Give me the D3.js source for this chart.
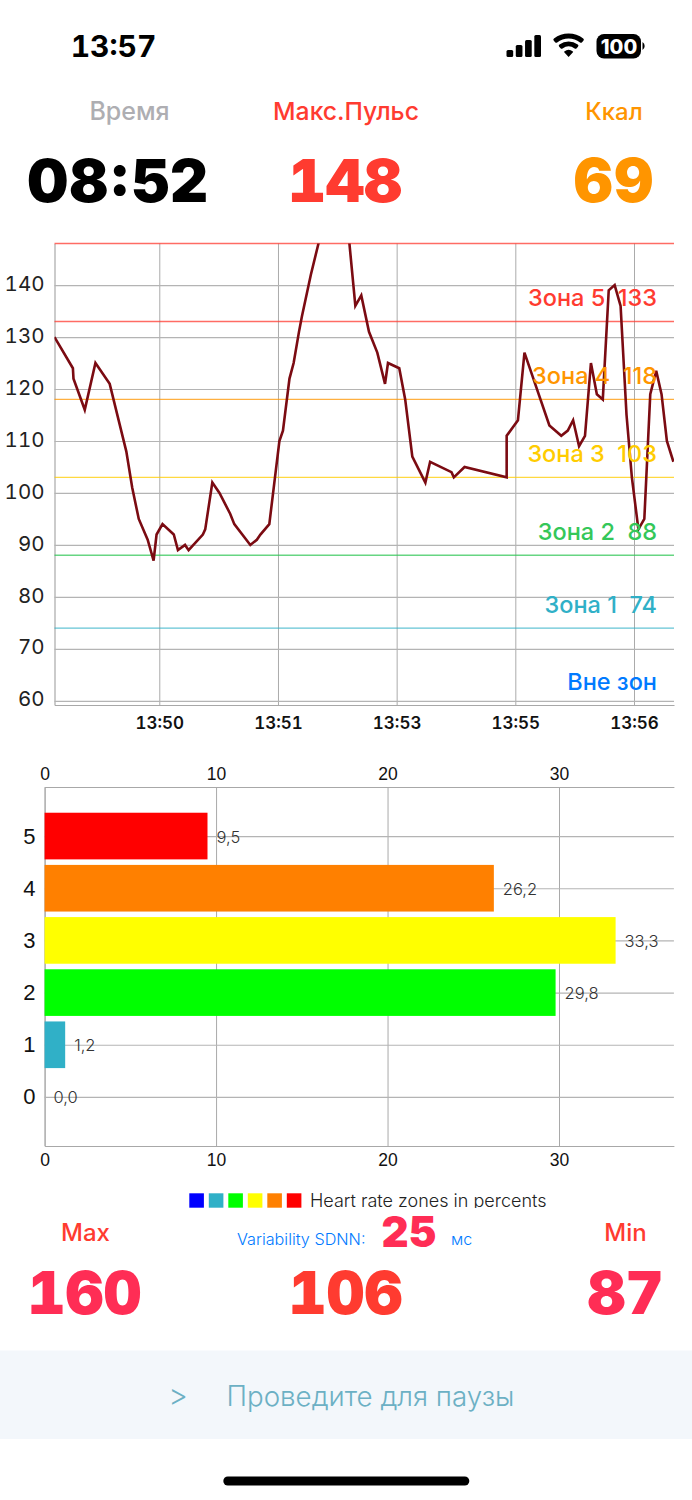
<!DOCTYPE html>
<html lang="ru">
<head>
<meta charset="UTF-8">
<title>Пульс</title>
<script src="https://cdnjs.cloudflare.com/ajax/libs/d3/7.8.5/d3.min.js"></script>
<style>
    html,body{margin:0;padding:0;background:#fff;}
    svg{display:block;}
    .tab,.tab text{font-variant-numeric:tabular-nums;}
</style>
</head>
<body>
<script>
// heart rate line, x is the sample number on the chart axis
var samplePos=[0,3.1,3.2,5.1,6.9,9.3,12.1,13.1,14.2,15.7,16.7,17.2,18.2,20.1,20.8,22,22.6,25,25.4,26.6,27.8,29.6,30.3,33,34.1,34.7,36.2,37.9,38.5,39.6,40.3,41.2,41.7,43.2,44.7,47.3,48.7,50.7,51.7,53,54.4,55.7,56.2,58.1,59.1,60.3,62.5,63.3,66.9,67.3,69.1,76.2,76.2,78.1,79.2,83.4,85.4,86.5,87.4,88.4,89.4,90.4,91.4,92.4,93.4,94.4,95.4,96.4,97.3,98.4,99.4,100.4,101.4,102.3,103.2,104.3];
var pulse=[130,124,122,116,125,121,108,101,95,91,87,92,94,92,89,90,89,92,93,102,100,96,94,90,91,92,94,110,112,122,125,131,134,142,149,160,160,136,138,131,127,121,125,124,118,107,102,106,104,103,105,103,111,114,127,113,111,112,114,109,111,125,119,118,139,140,136,115,103,93,95,119,123.5,119,110,106];

var timeTicks=[17.66,37.66,57.66,77.66,97.66];
var timeLabels=["13:50","13:51","13:53","13:55","13:56"];
var pulseTicks=[60,70,80,90,100,110,120,130,140];

var zoneValues=[148,133,118,103,88,74];
var zoneLineColors=["#ff3b30","#ff3b30","#ff9500","#ffcc00","#34c759","#30b0c7"];
var zoneNames=["Зона 5  133","Зона 4  118","Зона 3  103","Зона 2  88","Зона 1  74","Вне зон"];
var zoneNameColors=["#ff3b30","#ff9500","#ffcc00","#34c759","#30b0c7","#007aff"];
var zoneNameY=[306,384,462,540,613,690];

// zones in percents
var zoneIds=[5,4,3,2,1,0];
var zonePercents=[9.5,26.2,33.3,29.8,1.2,0];
var zoneLabels=["9,5","26,2","33,3","29,8","1,2","0,0"];
var barColors=["#ff0000","#ff8000","#ffff00","#00ff00","#30b0c7","#0000ff"];
var percentTicks=[0,10,20,30];
var legendColors=["#0000ff","#30b0c7","#00ff00","#ffff00","#ff8000","#ff0000"];

var signalBars=[7,12,17,22];

var width=692,height=1500;
var uiFont="Inter, 'Noto Sans', sans-serif";
var plainFont="'Liberation Sans', Arial, sans-serif";

var svg=d3.select("body").append("svg").attr("width",width).attr("height",height);

function label(x,y,str,size,weight,color,anchor,family){
    return svg.append("text")
        .attr("x",x).attr("y",y)
        .attr("font-size",size)
        .attr("font-weight",weight)
        .attr("font-family",family||uiFont)
        .attr("fill",color)
        .attr("text-anchor",anchor||"middle")
        .text(str);
}

// ---------- status bar ----------
label(113.5,57,"13:57",30,700,"#000").attr("class","tab");
var sigX=d3.scaleBand().domain(d3.range(4)).range([506.5,541]).paddingInner(0.28);
svg.selectAll(".sig").data(signalBars).enter().append("rect")
    .attr("x",function(d,i){return sigX(i);})
    .attr("y",function(d){return 57-d;})
    .attr("width",sigX.bandwidth())
    .attr("height",function(d){return d;})
    .attr("rx",1.5)
    .attr("fill","#000");
[[0,7],[10.5,15.5],[18.5,23.5]].forEach(function(r){
    svg.append("path")
        .attr("transform","translate(568.6,57)")
        .attr("d",d3.arc().innerRadius(r[0]).outerRadius(r[1]).startAngle(-0.74).endAngle(0.74).cornerRadius(r[0]?1.5:0.5)())
        .attr("fill","#000");
});
svg.append("rect").attr("x",596.5).attr("y",34).attr("width",44.5).attr("height",24.5).attr("rx",7.5).attr("fill","#000");
svg.append("path").attr("d","M642.5 42 a4 4.5 0 0 1 0 8 z").attr("fill","#000");
label(619,53.5,"100",20,800,"#fff");

// ---------- header numbers ----------
label(129.5,120,"Время",25,500,"#aeaeb2");
label(346,120,"Макс.Пульс",24.7,500,"#ff3b30");
label(614,120,"Ккал",24,500,"#ff9500");
label(117.5,202,"08:52",59,900,"#000");
label(345,202,"148",59,900,"#ff3b30").attr("class","tab");
label(613.5,202,"69",60,900,"#ff9500");

// ---------- pulse chart ----------
var x=d3.scaleLinear().domain([0,104.4]).range([54.5,674]);
var y=d3.scaleLinear().domain([59.2,148]).range([705,243.5]);

var xAxis=d3.axisBottom(x).tickValues(timeTicks).tickFormat(function(d,i){return timeLabels[i];}).tickSize(-(705-243.5)).tickSizeOuter(0).tickPadding(10);
var yAxis=d3.axisLeft(y).tickValues(pulseTicks).tickSize(-(674-54.5)).tickSizeOuter(0).tickPadding(10);

var gx=svg.append("g").attr("class","tab").attr("transform","translate(0,705)").call(xAxis);
var gy=svg.append("g").attr("class","tab").attr("transform","translate(54.5,0)").call(yAxis);
gx.select(".domain").attr("stroke","#a8a8a8").attr("stroke-width",1.2);
gy.select(".domain").attr("stroke","#a8a8a8").attr("stroke-width",1.2);
gx.selectAll("line").attr("stroke","#ababab").attr("stroke-width",1);
gy.selectAll("line").attr("stroke","#b4b4b4").attr("stroke-width",1.2);
gx.selectAll("text").attr("font-size",17).attr("font-weight",600).attr("font-family",uiFont).attr("fill","#111").attr("dy","0.85em");
gy.selectAll("text").attr("font-size",20.5).attr("font-weight",400).attr("font-family",uiFont).attr("fill","#222").attr("dy","0.25em");

svg.selectAll(".zone").data(zoneValues).enter().append("line")
    .attr("x1",x.range()[0]).attr("x2",x.range()[1])
    .attr("y1",function(d){return y(d);}).attr("y2",function(d){return y(d);})
    .attr("stroke",function(d,i){return zoneLineColors[i];})
    .attr("stroke-opacity",0.75)
    .attr("stroke-width",1.4);

svg.append("clipPath").attr("id","plot").append("rect")
    .attr("x",54.5).attr("y",243.5).attr("width",674-54.5).attr("height",705-243.5);

var line=d3.line()
    .x(function(d,i){return x(samplePos[i]);})
    .y(function(d){return y(d);});

svg.append("path").datum(pulse)
    .attr("d",line)
    .attr("clip-path","url(#plot)")
    .attr("fill","none")
    .attr("stroke","#7b0b12")
    .attr("stroke-width",2.6)
    .attr("stroke-linejoin","miter");

zoneNames.forEach(function(n,i){
    label(657,zoneNameY[i],n,23.5,500,zoneNameColors[i],"end").attr("xml:space","preserve");
});

// ---------- zones bar chart ----------
var px=d3.scaleLinear().domain([0,36.7]).range([44.6,673.9]);
var py=d3.scaleLinear().domain([-0.94,5.94]).range([1146,787]);
var barH=py(0)-py(0.894);

var pxBottom=d3.axisBottom(px).tickValues(percentTicks).tickSize(-(1146-787)).tickSizeOuter(0).tickPadding(8);
var pxTop=d3.axisTop(px).tickValues(percentTicks).tickSize(0).tickPadding(7);
var pyLeft=d3.axisLeft(py).tickValues(zoneIds).tickFormat(d3.format("d")).tickSize(-(673.9-44.6)).tickSizeOuter(0).tickPadding(9);

var gb=svg.append("g").attr("transform","translate(0,1146)").call(pxBottom);
var gt=svg.append("g").attr("transform","translate(0,787)").call(pxTop);
var gl=svg.append("g").attr("transform","translate(44.6,0)").call(pyLeft);
[gb,gt,gl].forEach(function(g){
    g.select(".domain").attr("stroke","#a8a8a8").attr("stroke-width",1);
    g.selectAll("line").attr("stroke","#a9a9a9").attr("stroke-width",1);
    g.selectAll("text").attr("font-size",17.5).attr("font-family",plainFont).attr("fill","#111");
});
gl.selectAll("line").attr("stroke","#b4b4b4").attr("stroke-width",1.2);
gl.selectAll("text").attr("font-size",22);

svg.selectAll(".bar").data(zonePercents).enter().append("rect")
    .attr("x",px(0))
    .attr("y",function(d,i){return py(zoneIds[i])-barH/2;})
    .attr("width",function(d){return px(d)-px(0);})
    .attr("height",barH)
    .attr("fill",function(d,i){return barColors[i];});

svg.selectAll(".val").data(zonePercents).enter().append("text")
    .attr("x",function(d){return px(d)+9;})
    .attr("y",function(d,i){return py(zoneIds[i])+6.5;})
    .attr("font-size",16.5)
    .attr("font-weight",300)
    .attr("font-family",uiFont)
    .attr("fill","#333")
    .text(function(d,i){return zoneLabels[i];});

// legend, the text is cut off at the bottom like in the app
var legendX=d3.scaleBand().domain(d3.range(6)).range([189.3,306.3]);
svg.selectAll(".leg").data(legendColors).enter().append("rect")
    .attr("x",function(d,i){return legendX(i);})
    .attr("y",1193.3)
    .attr("width",14.6)
    .attr("height",14.4)
    .attr("fill",function(d){return d;});
svg.append("clipPath").attr("id","legclip").append("rect")
    .attr("x",300).attr("y",1185).attr("width",260).attr("height",23);
label(310,1207,"Heart rate zones in percents",18,300,"#222","start").attr("clip-path","url(#legclip)");

// ---------- bottom numbers ----------
label(85.5,1241,"Max",24,500,"#ff3b30");
label(625.5,1241,"Min",24,500,"#ff3b30");
label(237,1245,"Variability SDNN:",16.2,300,"#007aff","start");
label(409,1247,"25",42,900,"#ff2d55");
label(451,1245,"мс",16,300,"#007aff","start");
label(84.5,1314,"160",59,900,"#ff2d55").attr("class","tab");
label(345.5,1314,"106",59,900,"#ff3b30").attr("class","tab");
label(625.5,1314,"87",59,900,"#ff2d55").attr("class","tab");

// ---------- slider ----------
svg.append("rect").attr("x",0).attr("y",1350.5).attr("width",width).attr("height",88.5).attr("fill","#f3f7fb");
label(178,1406,">",30,300,"#6cb0c4");
label(226.5,1406,"Проведите для паузы",27.7,300,"#6cb0c4","start");
svg.append("rect").attr("x",223.3).attr("y",1476.5).attr("width",246).attr("height",9).attr("rx",4.5).attr("fill","#000");
</script>
</body>
</html>
